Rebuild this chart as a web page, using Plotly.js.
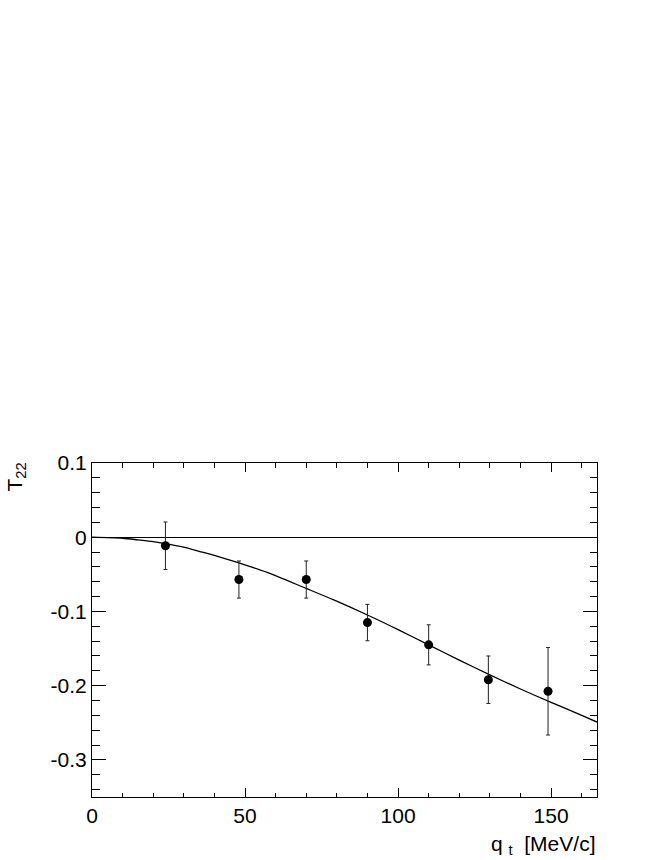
<!DOCTYPE html>
<html>
<head>
<meta charset="utf-8">
<script src="https://cdn.plot.ly/plotly-3.0.1.min.js"></script>
<style>html,body{margin:0;padding:0;background:#fff}#plot{width:664px;height:860px}</style>
</head>
<body>
<div id="plot"></div>
<script>
// Measured data points
var qt = [24, 48, 70, 90, 110, 129.5, 149];
var t22 = [-0.0115, -0.057, -0.057, -0.115, -0.145, -0.192, -0.2075];
var t22err = [0.032, 0.025, 0.025, 0.0245, 0.027, 0.032, 0.059];

// Theory curve
var curveX = [0, 10, 15, 20, 24, 30, 35, 40, 48, 57, 70, 79, 90, 100, 110, 120, 130, 140, 150, 160, 165];
var curveY = [0, -0.0014, -0.0036, -0.006, -0.0086, -0.0135, -0.019, -0.0245, -0.0347, -0.047, -0.069, -0.0845, -0.1048, -0.1245, -0.145, -0.1655, -0.1855, -0.2045, -0.2225, -0.240, -0.249];

// Tick labels
var xTickVals = [0, 50, 100, 150];
var xTickText = ['0', '50', '100', '150'];
var yTickVals = [0.1, 0, -0.1, -0.2, -0.3];
var yTickText = ['0.1', '0', '-0.1', '-0.2', '-0.3'];

var font = {family: 'Liberation Sans, Arial, sans-serif', size: 21, color: '#000'};

var traces = [
  {
    x: curveX, y: curveY, mode: 'lines', type: 'scatter',
    line: {color: '#000', width: 1.3, shape: 'spline', smoothing: 0.8}, hoverinfo: 'skip'
  },
  {
    x: qt, y: t22, mode: 'markers', type: 'scatter',
    marker: {color: '#000', size: 9, symbol: 'circle'},
    error_y: {type: 'data', array: t22err, visible: true, color: '#222', thickness: 1, width: 2}
  }
];

var layout = {
  width: 664, height: 860,
  margin: {l: 92, r: 67, t: 463, b: 63},
  paper_bgcolor: '#fff', plot_bgcolor: '#fff',
  showlegend: false,
  font: font,
  xaxis: {
    range: [0, 165], showgrid: false, zeroline: false,
    showline: true, linecolor: '#000', linewidth: 1, mirror: 'ticks',
    ticks: 'inside', ticklen: 9, tickwidth: 1, tickcolor: '#000',
    tickvals: xTickVals, ticktext: xTickText, tickfont: font,
    minor: {dtick: 10, ticks: 'inside', ticklen: 4.5, tickwidth: 1, tickcolor: '#000', showgrid: false}
  },
  yaxis: {
    range: [-0.35, 0.1], showgrid: false,
    zeroline: true, zerolinecolor: '#000', zerolinewidth: 1,
    showline: true, linecolor: '#000', linewidth: 1, mirror: 'ticks',
    ticks: 'inside', ticklen: 14, tickwidth: 1, tickcolor: '#000',
    tickvals: yTickVals, ticktext: yTickText, tickfont: font,
    minor: {dtick: 0.02, tick0: 0, ticks: 'inside', ticklen: 7.5, tickwidth: 1, tickcolor: '#000', showgrid: false}
  },
  annotations: [
    {
      xref: 'paper', yref: 'paper', x: 1, y: 0, xanchor: 'right', yanchor: 'top',
      yshift: -33, showarrow: false,
      text: 'q&nbsp;<sub>t</sub>&nbsp;&nbsp;[MeV/c]', font: font
    },
    {
      xref: 'paper', yref: 'paper', x: 0, y: 1, xanchor: 'left', yanchor: 'top',
      xshift: -92, yshift: 2, showarrow: false, textangle: -90,
      text: 'T<sub>22</sub>', font: font
    }
  ]
};

Plotly.newPlot('plot', traces, layout, {displayModeBar: false, staticPlot: true});
</script>
</body>
</html>
